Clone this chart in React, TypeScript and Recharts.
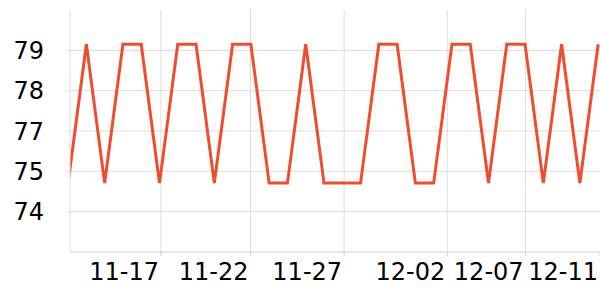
import React from 'react';
import { LineChart, Line, XAxis, YAxis, CartesianGrid } from 'recharts';

// one reading per day, 11-12 .. 12-11
const dates = [
  '11-12', '11-13', '11-14', '11-15', '11-16', '11-17', '11-18', '11-19', '11-20', '11-21',
  '11-22', '11-23', '11-24', '11-25', '11-26', '11-27', '11-28', '11-29', '11-30', '12-01',
  '12-02', '12-03', '12-04', '12-05', '12-06', '12-07', '12-08', '12-09', '12-10', '12-11',
];
const values = [
  75.05, 79.18, 75.05, 79.18, 79.18, 75.05, 79.18, 79.18, 75.05, 79.18,
  79.18, 75.05, 75.05, 79.18, 75.05, 75.05, 75.05, 79.18, 79.18, 75.05,
  75.05, 79.18, 79.18, 75.05, 79.18, 79.18, 75.05, 79.18, 75.05, 79.18,
];

const xTicks = [5.08, 9.98, 15.1, 20.74, 25.03, 29.1];
const xTickLabels = ['11-17', '11-22', '11-27', '12-02', '12-07', '12-11'];
const yTicks = [74.2, 75.4, 76.6, 77.8, 79.0];
const xDomain = [0.104, 29.1];
const yDomain = [73.0, 80.2];

const data = dates.map((d, i) => ({ day: i, date: d, value: values[i] }));

const labelFor = (v: number) => {
  const i = xTicks.indexOf(v);
  return i >= 0 ? xTickLabels[i] : '';
};

// no grid line under the last label (it sits on the right edge)
const verticalLines = ({ offset }: any) => {
  const left = offset?.left ?? 70;
  const w = offset?.width ?? 530;
  return xTicks
    .slice(0, -1)
    .map((t) => left + ((t - xDomain[0]) / (xDomain[1] - xDomain[0])) * w);
};

// only at the y ticks, nothing along the top edge
const horizontalLines = ({ offset }: any) => {
  const top = offset?.top ?? 10;
  const h = offset?.height ?? 242;
  return yTicks.map((t) => top + ((yDomain[1] - t) / (yDomain[1] - yDomain[0])) * h);
};

export default function App() {
  return (
    <div style={{ position: 'absolute', left: 0, top: 0 }}>
      <LineChart
        width={600}
        height={300}
        data={data}
        margin={{ top: 10, right: 0, left: 0, bottom: 0 }}
        style={{ fontFamily: '"DejaVu Sans", sans-serif' }}
      >
        <CartesianGrid
          stroke="#dddddd"
          strokeWidth={1}
          verticalCoordinatesGenerator={verticalLines}
          horizontalCoordinatesGenerator={horizontalLines}
        />
        <XAxis
          dataKey="day"
          type="number"
          domain={xDomain}
          allowDataOverflow
          ticks={xTicks}
          tickFormatter={labelFor}
          interval={0}
          height={48}
          tickSize={4}
          tickMargin={7}
          stroke="#cccccc"
          tick={{ fill: '#000', fontSize: 24, textAnchor: 'end', dx: -2 }}
        />
        <YAxis
          type="number"
          domain={yDomain}
          allowDataOverflow
          ticks={yTicks}
          tickFormatter={(v: number) => String(Math.round(v))}
          width={70}
          tickSize={4}
          tickMargin={22}
          stroke="#dddddd"
          tick={{ fill: '#000', fontSize: 24 }}
        />
        <Line
          type="linear"
          dataKey="value"
          stroke="#ef4d2d"
          strokeWidth={3}
          dot={false}
          isAnimationActive={false}
        />
      </LineChart>
    </div>
  );
}
